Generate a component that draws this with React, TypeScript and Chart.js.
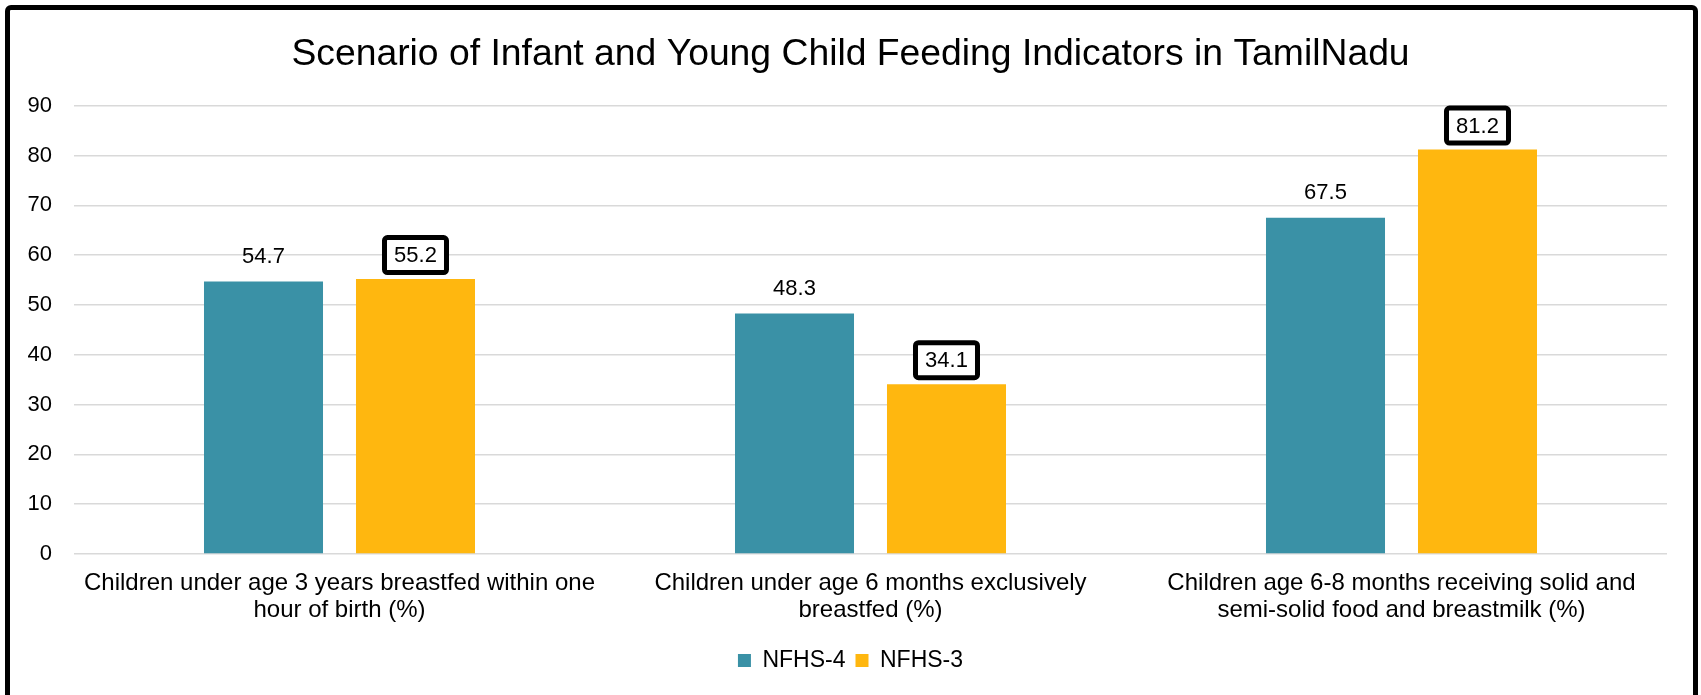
import { useEffect, useRef } from "react";
import { Chart, registerables } from "chart.js";

Chart.register(...registerables);

const chartTitle = "Scenario of Infant and Young Child Feeding Indicators in TamilNadu";
const categories: string[][] = [
  ["Children under age 3 years breastfed within one", "hour of birth (%)"],
  ["Children under age 6 months exclusively", "breastfed (%)"],
  ["Children age 6-8 months receiving solid and", "semi-solid food and breastmilk (%)"],
];
const seriesNames = ["NFHS-4", "NFHS-3"];
const nfhs4Values = [54.7, 48.3, 67.5];
const nfhs3Values = [55.2, 34.1, 81.2];
const yMin = 0;
const yMax = 90;
const yStep = 10;

const FONT = "'Liberation Sans', Arial, Helvetica, sans-serif";

const valueLabelPlugin = {
  id: "valueLabels",
  afterDatasetsDraw(chart: any) {
    const ctx = chart.ctx as CanvasRenderingContext2D;
    ctx.save();
    ctx.font = `22px ${FONT}`;
    ctx.textAlign = "center";
    ctx.textBaseline = "middle";
    chart.data.datasets.forEach((ds: any, di: number) => {
      const meta = chart.getDatasetMeta(di);
      meta.data.forEach((el: any, i: number) => {
        const v = ds.data[i] as number;
        const text = v.toFixed(1);
        const x = el.x;
        if (di === 1) {
          const y = el.y - 24;
          const w = 62;
          const h = 35;
          ctx.beginPath();
          (ctx as any).roundRect(x - w / 2, y - h / 2, w, h, 3);
          ctx.fillStyle = "#ffffff";
          ctx.fill();
          ctx.lineWidth = 5;
          ctx.strokeStyle = "#000000";
          ctx.stroke();
          ctx.fillStyle = "#000000";
          ctx.fillText(text, x, y + 1);
        } else {
          const y = el.y - 25;
          ctx.fillStyle = "#000000";
          ctx.fillText(text, x, y);
        }
      });
    });
    ctx.restore();
  },
};

export default function App() {
  const canvasRef = useRef<HTMLCanvasElement | null>(null);

  useEffect(() => {
    if (!canvasRef.current) return;
    const chart = new Chart(canvasRef.current, {
      type: "bar",
      data: {
        labels: categories,
        datasets: [
          {
            label: seriesNames[0],
            data: nfhs4Values,
            backgroundColor: "#3A91A6",
            categoryPercentage: 0.5725,
            barPercentage: 0.783,
          },
          {
            label: seriesNames[1],
            data: nfhs3Values,
            backgroundColor: "#FFB70F",
            categoryPercentage: 0.5725,
            barPercentage: 0.783,
          },
        ],
      },
      options: {
        responsive: false,
        animation: false,
        devicePixelRatio: 1,
        layout: { padding: { left: 0, right: 0, top: 0, bottom: 13 } },
        plugins: {
          title: {
            display: true,
            text: chartTitle,
            color: "#000000",
            font: { family: FONT, size: 37.3, weight: "normal" },
            padding: { top: 32, bottom: 29 },
          },
          legend: {
            position: "bottom",
            labels: {
              boxWidth: 13,
              boxHeight: 13,
              padding: 10,
              color: "#000000",
              font: { family: FONT, size: 23 },
            },
          },
          tooltip: { enabled: false },
        },
        scales: {
          x: {
            grid: { display: false },
            border: { display: false },
            ticks: {
              color: "#000000",
              font: { family: FONT, size: 24, lineHeight: 1.13 },
              padding: 8,
              maxRotation: 0,
              autoSkip: false,
            },
            afterFit(scale: any) {
              scale.height = 85;
            },
          },
          y: {
            min: yMin,
            max: yMax,
            grid: { color: "#D9D9D9", drawTicks: false, lineWidth: 1.5 },
            border: { display: false },
            ticks: {
              stepSize: yStep,
              color: "#000000",
              font: { family: FONT, size: 22 },
              padding: 22,
            },
            afterFit(scale: any) {
              scale.width = 74;
            },
          },
          yRightSpace: {
            type: "linear",
            position: "right",
            display: true,
            grid: { display: false, drawTicks: false },
            border: { display: false },
            ticks: { display: false },
            afterFit(scale: any) {
              scale.width = 34;
            },
          },
        },
      },
      plugins: [valueLabelPlugin],
    });
    return () => chart.destroy();
  }, []);

  return (
    <div style={{ position: "fixed", left: 0, top: 0, width: 1701, height: 695, background: "#ffffff", overflow: "hidden" }}>
      <canvas ref={canvasRef} width={1701} height={695} style={{ position: "absolute", left: 0, top: 0, width: 1701, height: 695 }} />
      <div
        style={{
          position: "absolute",
          left: 5,
          top: 5,
          width: 1693,
          height: 740,
          border: "5px solid #000000",
          borderRadius: 6,
          boxSizing: "border-box",
          pointerEvents: "none",
        }}
      />
    </div>
  );
}
